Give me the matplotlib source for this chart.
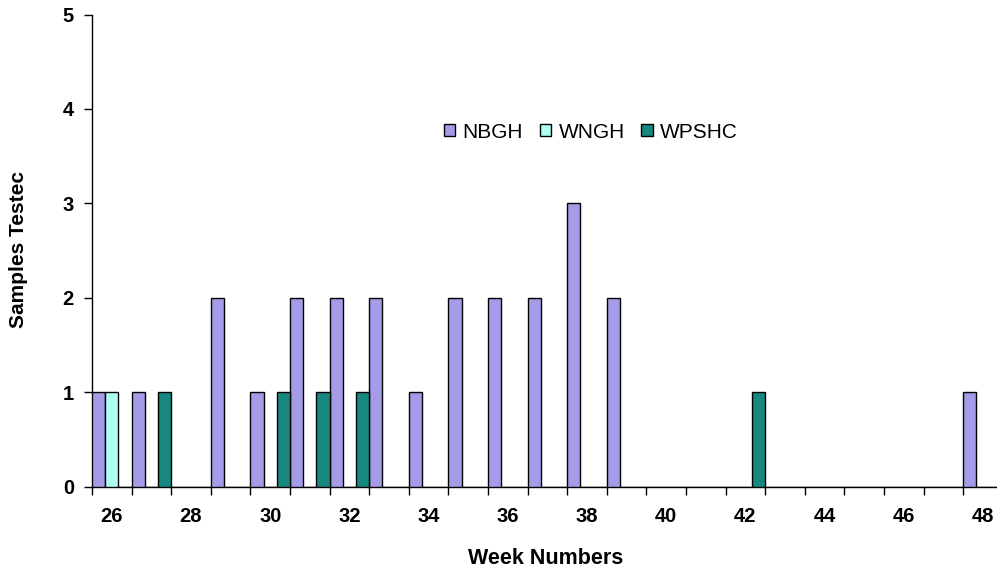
import matplotlib
matplotlib.use("Agg")
import matplotlib.pyplot as plt
from matplotlib.patches import Patch

weeks = list(range(26, 49))
nbgh  = [1, 1, 0, 2, 1, 2, 2, 2, 1, 2, 2, 2, 3, 2, 0, 0, 0, 0, 0, 0, 0, 0, 1]
wngh  = [1, 0, 0, 0, 0, 0, 0, 0, 0, 0, 0, 0, 0, 0, 0, 0, 0, 0, 0, 0, 0, 0, 0]
wpshc = [0, 1, 0, 0, 1, 1, 1, 0, 0, 0, 0, 0, 0, 0, 0, 0, 1, 0, 0, 0, 0, 0, 0]
series_names = ["NBGH", "WNGH", "WPSHC"]
colors = ["#A49CE8", "#ACFFF2", "#168880"]

plt.rcParams['font.family'] = ['Liberation Sans', 'DejaVu Sans']

W, H = 997, 574
fig = plt.figure(figsize=(W/100, H/100), dpi=100)
x0, x1 = 92, 1002.8
y0, y1 = 486.5, 14.5
ax = fig.add_axes([x0/W, (H-y0)/H, (x1-x0)/W, (y0-y1)/H])

n = len(weeks)
for k, (vals, c) in enumerate(zip([nbgh, wngh, wpshc], colors)):
    xs = [i + k/3 for i in range(n)]
    ax.bar(xs, vals, width=1/3, align='edge', color=c, edgecolor='black',
           linewidth=1.0, zorder=3)

ax.set_xlim(0, n)
ax.set_ylim(0, 5)
ax.set_yticks(range(0, 6))
ax.set_yticklabels([str(v) for v in range(0, 6)], fontsize=14.5, fontweight='bold')
ax.set_xticks(range(0, n + 1))
ax.set_xticklabels([])
ax.set_xticks([i + 0.5 for i in range(0, n, 2)], minor=True)
ax.set_xticklabels([str(weeks[i]) for i in range(0, n, 2)], minor=True,
                   fontsize=14.5, fontweight='bold')
ax.tick_params(axis='x', which='minor', length=0, pad=15)
ax.tick_params(axis='x', which='major', length=6, width=1, direction='out', color='black')
ax.tick_params(axis='y', length=6, width=1, direction='out', pad=7, color='black')

for s in ['top', 'right']:
    ax.spines[s].set_visible(False)
for s in ['left', 'bottom']:
    ax.spines[s].set_color('black')
    ax.spines[s].set_linewidth(1.0)

fig.text(546/W, 1 - 558/H, "Week Numbers", ha='center', va='center',
         fontsize=15.5, fontweight='bold')
fig.text(18/W, 1 - 250/H, "Samples Testec", ha='center', va='center',
         fontsize=15, fontweight='bold', rotation=90)

handles = [Patch(facecolor=c, edgecolor='black', linewidth=1.0) for c in colors]
fig.legend(handles, series_names, loc='center', bbox_to_anchor=(591/W, 1 - 132/H),
           ncol=3, frameon=False, fontsize=15, handlelength=0.55, handleheight=0.55,
           handletextpad=0.35, columnspacing=0.8)

fig.savefig("out.png", dpi=100)
